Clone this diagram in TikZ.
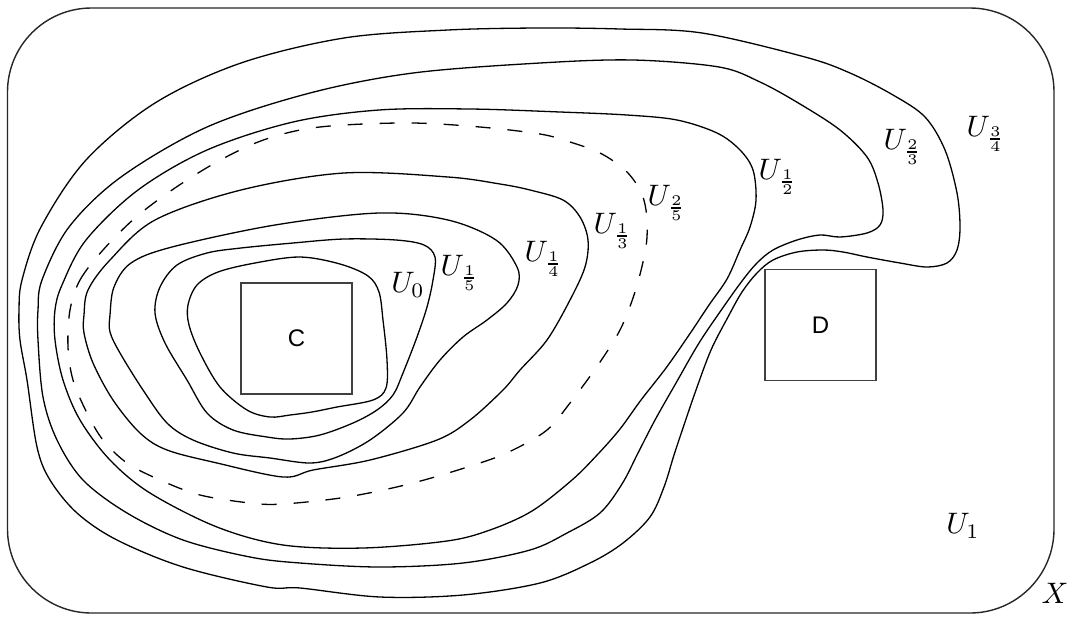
\documentclass[tikz,border=0pt]{standalone}
\usepackage{fontspec}
\newfontfamily\boxfont{Liberation Sans}
\begin{document}
\begin{tikzpicture}[x=0.5pt,y=-0.5pt,
  level/.style={draw=black, line width=0.65pt, line join=round},
  dashlevel/.style={level, dash pattern=on 7.5pt off 8.5pt},
  frame/.style={draw=black!85, line width=0.7pt, rounded corners=42pt},
  setbox/.style={draw=black!75, line width=0.7pt, minimum width=55.5pt, minimum height=55.5pt, inner sep=0pt, font=\boxfont\fontsize{12}{14}\selectfont},
  lab/.style={inner sep=0pt, scale=1.48}]
\useasboundingbox (0,0) rectangle (1069,616);

% the space X
\draw[frame] (7.5,8) rectangle (1054,613);

% U_0
\draw[level] plot[smooth cycle, tension=0.55] coordinates {
 (188,305) (197,285) (218,272) (255,263) (300,257) (340,264) (368,276)
 (379,292) (383,320) (387,360) (386,388) (373,400) (337,407) (312,412)
 (290,415) (270,417) (247,410) (220,387) (200,353) (189,325)};

% U_{1/5}
\draw[level] plot[smooth cycle, tension=0.55] coordinates {
 (155,313) (160,287) (177,265) (207,253) (241,248) (293,243) (344,239)
 (396,240) (424,245) (435,257) (433,280) (427,307) (417,337) (403,373)
 (393,395) (377,410) (353,423) (320,435) (290,439) (267,437) (233,430)
 (207,413) (187,380) (165,343)};

% U_{1/4}
\draw[level] plot[smooth cycle, tension=0.55] coordinates {
 (110,315) (114,287) (131,263) (172,247) (275,225) (379,213) (448,220)
 (496,240) (517,267) (518,285) (507,303) (487,320) (463,337) (440,360)
 (420,387) (403,413) (370,440) (337,457) (310,463) (270,458) (233,453)
 (193,440) (167,423) (143,390) (120,353) (110,332)};

% U_{1/3}
\draw[level] plot[smooth cycle, tension=0.55] coordinates {
 (84,315) (88,290) (110,260) (155,220) (241,190) (344,173) (448,177)
 (500,184) (530,190) (563,200) (580,217) (588,240) (585,267) (570,300)
 (547,340) (520,370) (503,390) (470,420) (437,440) (370,460) (313,470)
 (283,477) (217,463) (167,450) (140,433) (113,400) (93,363) (84,333)};

% U_{2/5}
\draw[dashlevel] plot[smooth cycle, tension=0.55] coordinates {
 (70,310) (80,280) (103,250) (135,218) (172,190) (215,163) (258,142)
 (300,130) (344,125) (413,123) (480,127) (540,134) (570,142) (600,153)
 (625,170) (640,190) (646,210) (647,237) (643,262) (634,295) (620,330)
 (598,365) (570,403) (547,430) (513,450) (480,463) (413,483) (347,497)
 (283,504) (250,503) (200,495) (160,480) (127,463) (103,440) (87,413)
 (73,380) (68,347)};

% U_{1/2}
\draw[level] plot[smooth cycle, tension=0.55] coordinates {
 (55,310) (62,285) (86,240) (138,190) (207,150) (293,122) (379,110)
 (470,109) (560,112) (627,115) (677,120) (717,133) (740,150) (753,170)
 (756,200) (750,227) (740,250) (727,279) (709,305) (689,335) (666,368)
 (641,400) (620,429) (598,454) (572,480) (532,511) (490,530)
 (447,541) (363,548) (283,545) (217,527) (150,493) (110,460) (80,420)
 (63,380) (55,340)};

% U_{2/3}
\draw[level] plot[smooth cycle, tension=0.55] coordinates {
 (38,310) (42,280) (69,227) (121,177) (207,127) (310,93) (413,73)
 (540,63) (633,60) (719,67) (760,82) (800,104) (840,130) (867,157)
 (878,183) (883,210) (880,225) (867,233) (840,237) (820,235) (797,240)
 (773,250) (757,263) (742,281) (722,309) (699,343) (676,383) (655,420)
 (638,453) (622,484) (600,513) (567,533) (530,550) (463,563) (380,567)
 (300,563) (250,557) (183,540) (127,513) (83,480) (57,440) (43,397)
 (38,340)};

% U_{3/4}
\draw[level] plot[smooth cycle, tension=0.55] coordinates {
 (19,310) (22,280) (41,227) (86,160) (155,103) (241,63) (344,38)
 (448,30) (540,28) (620,29) (702,33) (805,57) (850,73) (893,95)
 (925,117) (945,150) (957,193) (960,227) (957,250) (947,263) (927,267)
 (900,263) (867,257) (843,252) (823,250) (797,252) (773,260) (757,273)
 (742,292) (728,317) (711,350) (696,390) (684,425) (674,455) (664,487)
 (650,517) (623,543) (590,563) (540,583) (463,595) (380,597) (300,588)
 (267,587) (183,567) (117,540) (77,513) (50,480) (37,447) (27,380)
 (20,340)};

% the closed sets C and D
\node[setbox] (C) at (296.5,338.5) {C};
\node[setbox] (D) at (820.5,325) {D};

% labels of the open sets
\node[lab] (u0)  at (408,285) {$U_0$};
\node[lab] (u15) at (460,273) {$U_{\frac{1}{5}}$};
\node[lab] (u14) at (544,259) {$U_{\frac{1}{4}}$};
\node[lab] (u13) at (613,231) {$U_{\frac{1}{3}}$};
\node[lab] (u25) at (667,203) {$U_{\frac{2}{5}}$};
\node[lab] (u12) at (778,177) {$U_{\frac{1}{2}}$};
\node[lab] (u23) at (903,147) {$U_{\frac{2}{3}}$};
\node[lab] (u34) at (986,134) {$U_{\frac{3}{4}}$};
\node[lab] (u1)  at (963,526) {$U_1$};
\node[lab] (X)   at (1055,593) {$X$};
\end{tikzpicture}
\end{document}
